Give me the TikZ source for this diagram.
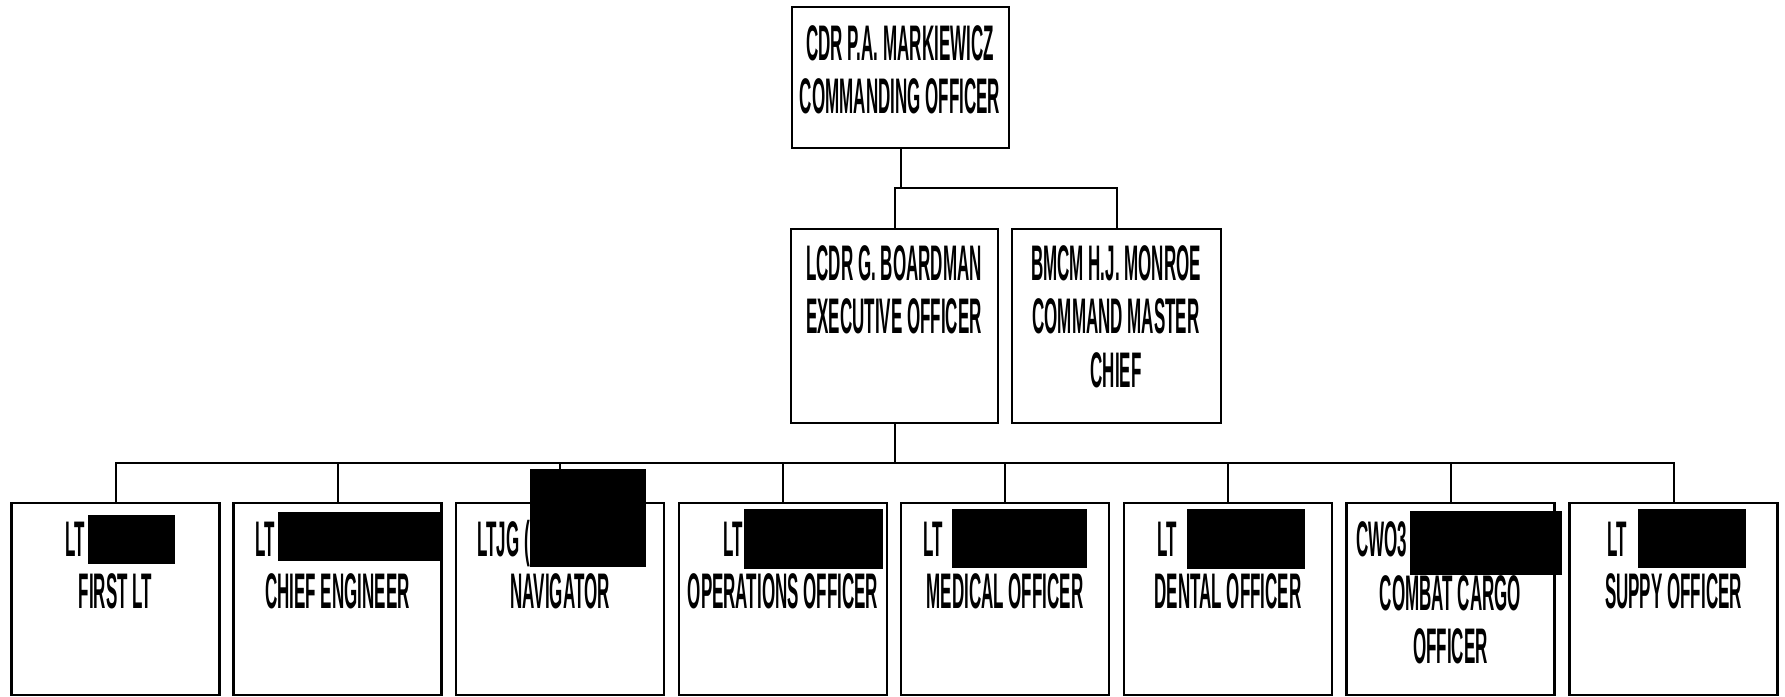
\documentclass[tikz,border=0pt]{standalone}
\usepackage{fontspec}
\newfontfamily\orgfont{Liberation Sans}[FakeStretch=0.34]
\begin{document}
\begin{tikzpicture}[x=1pt,y=-1pt,
  box/.style={draw=black, line width=2.4pt, fill=white, inner sep=0pt, outer sep=0pt},
  topbox/.style={box, minimum width=217pt, minimum height=141pt},
  midbox/.style={box, minimum width=208pt, minimum height=194pt},
  lowbox/.style={box, minimum width=208pt, minimum height=192pt},
  lbl/.style={font=\orgfont\bfseries\fontsize{50}{53}\selectfont, inner sep=0pt, anchor=base},
  lblw/.style={lbl, anchor=base west},
  conn/.style={draw=black, line width=2pt},
  redact/.style={fill=black}]
\useasboundingbox (0,0) rectangle (1785,696);
\fill[white] (0,0) rectangle (1785,696);

% boxes
\node[topbox] (co) at (900.5,77.5) {};
\node[midbox, minimum width=207pt] (xo) at (894.5,326) {};
\node[midbox, minimum width=209pt] (cmc) at (1116.5,326) {};
\node[lowbox] (b1) at (115.5,599) {};
\node[lowbox] (b2) at (337.5,599) {};
\node[lowbox] (b3) at (560,599) {};
\node[lowbox] (b4) at (783,599) {};
\node[lowbox] (b5) at (1005,599) {};
\node[lowbox] (b6) at (1228,599) {};
\node[lowbox] (b7) at (1450.5,599) {};
\node[lowbox] (b8) at (1673.5,599) {};

% connector levels
\coordinate (j1) at (0,188);
\coordinate (bus) at (0,463);

\draw[conn] (co.south) -- (co.south |- j1);
\draw[conn] (xo.north) |- (cmc.north |- j1) -- (cmc.north);
\draw[conn] (xo.south) -- (xo.south |- bus);
\draw[conn] (b1.north) |- (b8.north |- bus) -- (b8.north);
\foreach \b in {b2,b3,b4,b5,b6,b7}{
  \draw[conn] (\b.north) -- (\b.north |- bus);
}

% texts
\node[lbl] (co1) at (900,60) {CDR P.A. MARKIEWICZ};
\node[lbl] (co2) at (900,113) {COMMANDING OFFICER};
\node[lbl] (xo1) at (894,280) {LCDR G. BOARDMAN};
\node[lbl] (xo2) at (894,333) {EXECUTIVE OFFICER};
\node[lbl] (cm1) at (1116,280) {BMCM H.J. MONROE};
\node[lbl] (cm2) at (1116,333) {COMMAND MASTER};
\node[lbl] (cm3) at (1116,387) {CHIEF};

\node[lblw] (n1) at (65,556) {LT};
\node[lblw] (n2) at (255,556) {LT};
\node[lblw] (n3) at (477,556) {LTJG (};
\node[lblw] (n4) at (723,556) {LT};
\node[lblw] (n5) at (923,556) {LT};
\node[lblw] (n6) at (1157,556) {LT};
\node[lblw] (n7) at (1356,556) {CWO3};
\node[lblw] (n8) at (1607,556) {LT};

\node[lbl] (p1) at (115.5,608) {FIRST LT};
\node[lbl] (p2) at (337.5,608) {CHIEF ENGINEER};
\node[lbl] (p3) at (560,608) {NAVIGATOR};
\node[lbl] (p4) at (783,608) {OPERATIONS OFFICER};
\node[lbl] (p5) at (1005,608) {MEDICAL OFFICER};
\node[lbl] (p6) at (1228,608) {DENTAL OFFICER};
\node[lbl] (p7) at (1450.5,610) {COMBAT CARGO};
\node[lbl] (p7b) at (1450.5,663) {OFFICER};
\node[lbl] (p8) at (1673.5,608) {SUPPY OFFICER};

% redactions
\fill[redact] (88,515) rectangle (175,564);
\fill[redact] (278,512) rectangle (440,561);
\fill[redact] (530,469) rectangle (646,567);
\fill[redact] (744,509) rectangle (883,569);
\fill[redact] (952,509) rectangle (1087,568);
\fill[redact] (1187,509) rectangle (1305,569);
\fill[redact] (1410,511) rectangle (1562,575);
\fill[redact] (1638,509) rectangle (1746,568);
\end{tikzpicture}
\end{document}
